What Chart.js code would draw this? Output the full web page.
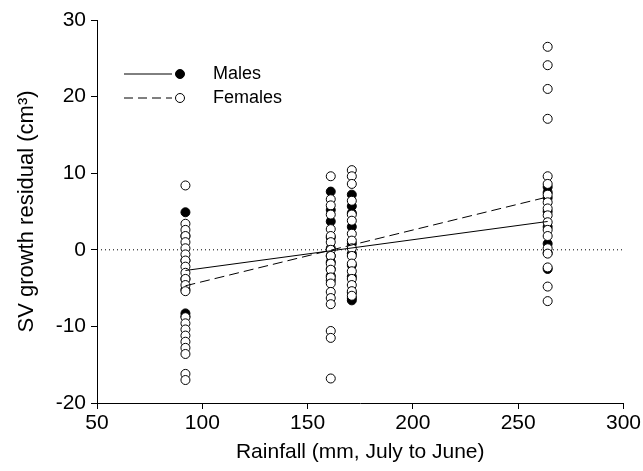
<!DOCTYPE html>
<html>
<head>
<meta charset="utf-8">
<script src="https://cdn.jsdelivr.net/npm/chart.js@4"></script>
<style>
  html, body { margin: 0; padding: 0; background: #fff; }
  #wrap { width: 643px; height: 471px; }
</style>
</head>
<body>
<div id="wrap"><canvas id="grafikoa"></canvas></div>
<script>
// rainfall groups (mm, July to June)
const rainfall = [92, 161, 171, 264];

// SV growth residuals per rainfall group
const malesY = [
  [4.9, 1.8, -1.4, -3.8, -5.2, -8.3, -8.7],
  [7.6, 5.2, 3.7, 1.6, 0.2, -0.8, -1.6, -2.5, -3.4, -4.0],
  [7.2, 5.7, 4.8, 3.0, 0.8, -0.5, -2.0, -3.5, -5.6, -6.3, -6.6],
  [8.2, 7.5, 6.8, 5.0, 3.0, 0.8, -0.4, -2.5]
];
const femalesY = [
  [8.4, 3.4, 2.6, 1.8, 1.0, 0.2, -0.6, -1.4, -2.2, -3.0, -3.8, -4.6, -5.4, -8.8, -9.6, -10.4, -11.2, -12.0, -12.8, -13.6, -16.2, -17.0],
  [9.6, 6.6, 5.8, 4.6, 2.7, 1.8, 1.0, 0.0, -0.8, -1.8, -2.6, -3.6, -4.4, -5.5, -6.3, -7.1, -10.6, -11.5, -16.8],
  [10.4, 9.6, 8.6, 6.4, 4.6, 3.8, 2.1, 1.2, 0.2, -0.8, -1.8, -2.8, -3.8, -4.6, -5.4, -6.0],
  [26.5, 24.1, 21.0, 17.1, 9.6, 8.6, 7.2, 6.2, 5.4, 4.5, 3.6, 2.6, 1.8, 0.2, -0.5, -2.3, -4.8, -6.7]
];

// fitted lines (ends)
const malesFitX = [92, 264];
const malesFitY = [-2.7, 3.7];
const femalesFitX = [92, 264];
const femalesFitY = [-4.7, 6.9];

const xTicks = [50, 100, 150, 200, 250, 300];
const yTicks = [-20, -10, 0, 10, 20, 30];

const toPoints = (groups) => groups.flatMap((ys, i) => ys.map(y => ({x: rainfall[i], y: y})));
const linePts = (xs, ys) => xs.map((x, i) => ({x: x, y: ys[i]}));

const font = 'Liberation Sans, Arial, sans-serif';

// legend drawn like the original: line + marker + label
const legendPlugin = {
  id: 'lineLegend',
  afterDraw(chart) {
    const c = chart.ctx;
    const rows = [
      {label: 'Males', dash: [], fill: '#000', y: 74},
      {label: 'Females', dash: [9, 5], fill: '#fff', y: 98}
    ];
    c.save();
    rows.forEach(r => {
      c.strokeStyle = '#000';
      c.lineWidth = 1;
      c.setLineDash(r.dash);
      c.beginPath();
      c.moveTo(124, r.y);
      c.lineTo(172, r.y);
      c.stroke();
      c.setLineDash([]);
      c.beginPath();
      c.arc(180, r.y, 4.5, 0, Math.PI * 2);
      c.fillStyle = r.fill;
      c.fill();
      c.stroke();
      c.fillStyle = '#000';
      c.font = '18px ' + font;
      c.textBaseline = 'middle';
      c.fillText(r.label, 213, r.y);
    });
    c.restore();
  }
};

const data = {
  datasets: [
    {
      label: 'Females fit',
      data: linePts(femalesFitX, femalesFitY),
      showLine: true,
      borderColor: '#000',
      borderWidth: 1,
      borderDash: [10, 5],
      pointRadius: 0,
      order: 1
    },
    {
      label: 'Males fit',
      data: linePts(malesFitX, malesFitY),
      showLine: true,
      borderColor: '#000',
      borderWidth: 1,
      pointRadius: 0,
      order: 2
    },
    {
      label: 'Females',
      data: toPoints(femalesY),
      backgroundColor: '#fff',
      borderColor: '#000',
      borderWidth: 1,
      pointRadius: 4.5,
      order: 3
    },
    {
      label: 'Males',
      data: toPoints(malesY),
      backgroundColor: '#000',
      borderColor: '#000',
      borderWidth: 1,
      pointRadius: 4.5,
      order: 4
    },
    {
      label: 'zero',
      data: [{x: 50, y: 0}, {x: 300, y: 0}],
      showLine: true,
      borderColor: '#000',
      borderWidth: 1,
      borderDash: [1, 3],
      pointRadius: 0,
      order: 5
    }
  ]
};

const config = {
  type: 'scatter',
  data: data,
  options: {
    responsive: true,
    maintainAspectRatio: false,
    animation: false,
    layout: { padding: { top: 20, right: 18, left: 0, bottom: 0 } },
    plugins: {
      legend: { display: false },
      tooltip: { enabled: false }
    },
    scales: {
      x: {
        type: 'linear',
        min: 50,
        max: 300,
        afterBuildTicks: (s) => { s.ticks = xTicks.map(v => ({value: v})); },
        afterFit: (s) => { s.height = 68; },
        border: { color: '#000', width: 1 },
        grid: { drawOnChartArea: false, color: '#000', tickLength: 6 },
        ticks: { color: '#000', font: { family: font, size: 21 }, padding: 2 },
        title: {
          display: true,
          text: 'Rainfall (mm, July to June)',
          color: '#000',
          font: { family: font, size: 21 },
          padding: { top: 0, bottom: 6 }
        }
      },
      y: {
        type: 'linear',
        min: -20,
        max: 30,
        afterBuildTicks: (s) => { s.ticks = yTicks.map(v => ({value: v})); },
        afterFit: (s) => { s.width = 97; },
        border: { color: '#000', width: 1 },
        grid: { drawOnChartArea: false, color: '#000', tickLength: 6 },
        ticks: { color: '#000', font: { family: font, size: 21 }, padding: 5 },
        title: {
          display: true,
          text: 'SV growth residual (cm³)',
          color: '#000',
          font: { family: font, size: 22 },
          padding: { top: 14, bottom: 0 }
        }
      }
    }
  },
  plugins: [legendPlugin]
};

const ctx = document.getElementById('grafikoa').getContext('2d');
new Chart(ctx, config);
</script>
</body>
</html>
